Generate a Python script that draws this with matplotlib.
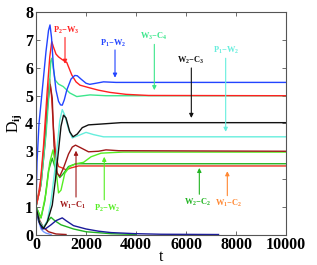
import matplotlib

matplotlib.use("Agg")
import matplotlib.pyplot as plt

plt.rcParams["font.family"] = "Liberation Serif"
plt.rcParams["font.weight"] = "bold"
plt.rcParams["mathtext.fontset"] = "custom"
plt.rcParams["mathtext.rm"] = "Liberation Serif:bold"
plt.rcParams["mathtext.it"] = "Liberation Serif:bold"
plt.rcParams["mathtext.bf"] = "Liberation Serif:bold"
plt.rcParams["mathtext.default"] = "rm"

# curves: (t, D_ij)
p1w2_t = [0, 40, 120, 250, 400, 500, 560, 620, 700, 800, 900, 980, 1050, 1130, 1230, 1400, 1550, 1650, 1800, 2000, 2150, 2400, 2700, 3200, 10000]
p1w2_y = [1.0, 2.6, 4.0, 5.2, 6.6, 7.35, 7.55, 7.1, 6.0, 5.2, 4.8, 4.67, 4.66, 4.85, 5.2, 5.6, 5.73, 5.72, 5.6, 5.45, 5.41, 5.45, 5.5, 5.48, 5.48]

p2w3_t = [0, 150, 300, 450, 550, 630, 700, 800, 900, 1050, 1230, 1430, 1600, 1760, 2160, 2500, 2960, 3600, 4500, 10000]
p2w3_y = [1.0, 1.6, 3.2, 5.2, 6.4, 6.95, 6.75, 6.5, 6.4, 6.3, 6.2, 5.75, 5.5, 5.38, 5.28, 5.2, 5.12, 5.05, 5.01, 5.0]

w3c4_t = [0, 200, 400, 530, 590, 630, 690, 760, 900, 1090, 1350, 1630, 2160, 2800, 10000]
w3c4_y = [1.0, 1.8, 3.6, 5.2, 6.25, 6.35, 6.0, 5.57, 5.42, 5.33, 5.1, 4.97, 5.03, 5.0, 5.0]

w2c3_t = [0, 150, 300, 450, 650, 780, 920, 1000, 1100, 1200, 1350, 1480, 1650, 1850, 2100, 2600, 3400, 10000]
w2c3_y = [1.0, 0.4, 0.22, 0.45, 1.06, 2.0, 3.2, 3.9, 4.3, 4.2, 3.7, 3.52, 3.62, 3.85, 3.95, 3.98, 4.03, 4.03]

p1w2b_t = [0, 150, 300, 450, 600, 750, 850, 950, 1050, 1150, 1300, 1450, 1650, 2000, 2300, 2700, 10000]
p1w2b_y = [1.0, 0.45, 0.25, 0.5, 1.2, 2.3, 3.2, 4.1, 4.5, 4.3, 3.8, 3.48, 3.55, 3.68, 3.6, 3.52, 3.52]

w1c1_t = [0, 200, 350, 480, 570, 650, 720, 850, 950, 1100, 1300, 1450, 1580, 1800, 2100, 2500, 2800, 3300, 10000]
w1c1_y = [1.0, 1.8, 3.2, 4.8, 5.4, 4.9, 3.2, 2.2, 2.1, 2.4, 2.9, 3.15, 3.22, 3.12, 2.98, 3.0, 3.05, 3.02, 3.0]

w1c2_t = [0, 200, 350, 480, 540, 620, 700, 800, 900, 1050, 1200, 1400, 1700, 10000]
w1c2_y = [1.0, 2.0, 3.5, 5.0, 5.6, 5.0, 3.8, 2.8, 2.45, 2.4, 2.33, 2.4, 2.47, 2.47]

p2w2_t = [0, 200, 400, 550, 680, 780, 900, 1000, 1150, 1350, 1600, 1900, 2200, 2600, 3000, 3500, 10000]
p2w2_y = [1.0, 0.6, 1.5, 2.6, 3.05, 2.5, 1.5, 1.6, 2.2, 2.45, 2.55, 2.6, 2.8, 2.93, 2.95, 2.97, 2.97]

w2c2_t = [0, 200, 350, 500, 650, 800, 950, 1100, 1300, 1600, 10000]
w2c2_y = [1.0, 0.6, 1.2, 2.3, 2.75, 2.3, 2.05, 2.2, 2.45, 2.55, 2.55]

navy_t = [0, 100, 250, 400, 600, 800, 1050, 1200, 1500, 2000, 2500, 3000, 4000, 5000, 7300]
navy_y = [1.0, 0.5, 0.2, 0.22, 0.35, 0.5, 0.6, 0.5, 0.32, 0.2, 0.12, 0.07, 0.03, 0.01, 0.0]

greenlow_t = [0, 150, 300, 450, 600, 750, 1000, 1500, 2000, 3000, 4000]
greenlow_y = [1.0, 0.4, 0.25, 0.45, 0.62, 0.5, 0.35, 0.2, 0.1, 0.03, 0.0]

lightblue_t = [0, 100, 200, 300, 400, 600]
lightblue_y = [1.0, 0.5, 0.2, 0.1, 0.05, 0.0]

darkredlow_t = [0, 150, 300, 500, 800, 1200]
darkredlow_y = [1.0, 0.5, 0.25, 0.1, 0.02, 0.0]

curves = [
    (greenlow_t, greenlow_y, "#22b422"),
    (lightblue_t, lightblue_y, "#7799ff"),
    (darkredlow_t, darkredlow_y, "#a01818"),
    (navy_t, navy_y, "#1a1a9a"),
    (w1c2_t, w1c2_y, "#e83020"),
    (w2c2_t, w2c2_y, "#22b422"),
    (p2w2_t, p2w2_y, "#55ee22"),
    (w1c1_t, w1c1_y, "#a01818"),
    (p1w2b_t, p1w2b_y, "#66eedd"),
    (w2c3_t, w2c3_y, "#111111"),
    (w3c4_t, w3c4_y, "#3ce68c"),
    (p2w3_t, p2w3_y, "#ff2020"),
    (p1w2_t, p1w2_y, "#2244ff"),
]

# annotations: label, text position, arrow tip, arrow tail, colour
notes = [
    ("P$_2$$-$W$_3$", (1200, 7.37), (1160, 6.05), (1160, 7.2), "#ff2020"),
    ("P$_1$$-$W$_2$", (3100, 6.9), (3160, 5.55), (3160, 6.75), "#2244ff"),
    ("W$_3$$-$C$_4$", (4720, 7.12), (4733, 5.1), (4733, 6.95), "#3ce68c"),
    ("W$_2$$-$C$_3$", (6200, 6.29), (6213, 4.1), (6213, 6.1), "#111111"),
    ("P$_1$$-$W$_2$", (7600, 6.65), (7587, 3.6), (7587, 6.45), "#66eedd"),
    ("W$_1$$-$C$_1$", (1460, 1.06), (1600, 3.12), (1600, 1.25), "#a01818"),
    ("P$_2$$-$W$_2$", (2830, 0.95), (2730, 2.9), (2730, 1.15), "#55ee22"),
    ("W$_2$$-$C$_2$", (6450, 1.17), (6533, 2.5), (6533, 1.35), "#22b422"),
    ("W$_1$$-$C$_2$", (7700, 1.13), (7653, 2.38), (7653, 1.3), "#ff8833"),
]

fig = plt.figure(figsize=(3.17, 2.65), dpi=100)
ax = fig.add_axes([0.1136, 0.115, 0.7886, 0.838])

for t, y, c in curves:
    ax.plot(t, y, color=c, lw=1.0)

for label, txy, tip, tail, c in notes:
    ax.text(txy[0], txy[1], label, color=c, fontsize=6, ha="center", va="center")
    ax.annotate("", xy=tip, xytext=tail,
                arrowprops=dict(arrowstyle="-|>", color=c, lw=0.8, mutation_scale=6))

ax.set_xlim(0, 10000)
ax.set_ylim(0, 8)
ax.set_xticks(range(0, 10001, 2000))
ax.set_yticks(range(0, 9))
ax.tick_params(direction="in", top=True, right=True, length=3, width=0.6,
               labelsize=11.5, pad=2, color="#555555")
for s in ax.spines.values():
    s.set_color("#555555")
    s.set_linewidth(0.8)
ax.set_xlabel("t", fontsize=11.5, labelpad=-3)
ax.set_ylabel("D$_{ij}$", fontsize=11.5, labelpad=1)

fig.savefig("out.png", dpi=100)
